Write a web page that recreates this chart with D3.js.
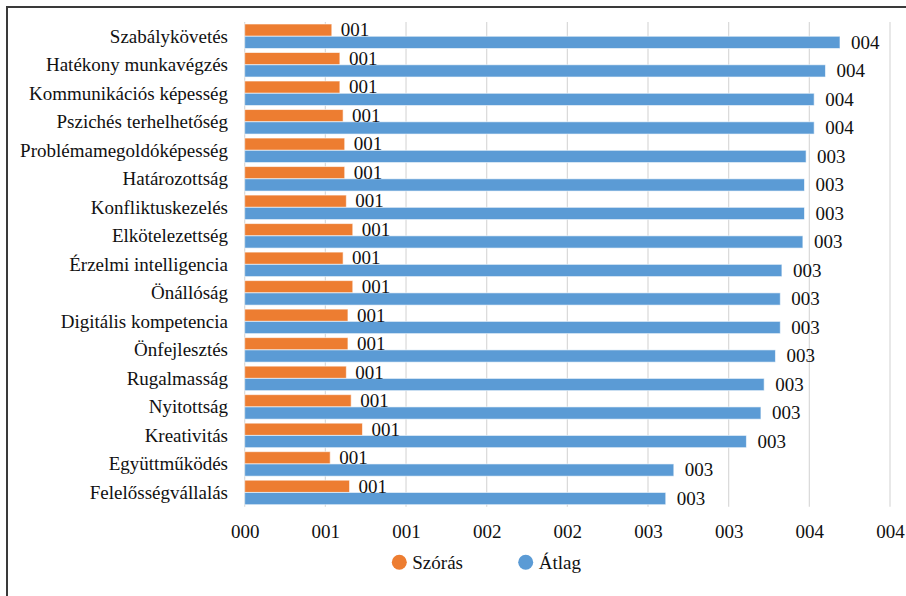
<!DOCTYPE html>
<html>
<head>
<meta charset="utf-8">
<script src="https://cdn.jsdelivr.net/npm/d3@7"></script>
<style>
	body { margin: 0; background: #fff; }
	svg text { font-family: "Liberation Serif", Tinos, "Times New Roman", Times, "DejaVu Serif", serif !important; fill: #111; }
</style>
</head>
<body>
<script>
var categories = ["Szabálykövetés", "Hatékony munkavégzés", "Kommunikációs képesség", "Pszichés terhelhetőség",
	"Problémamegoldóképesség", "Határozottság", "Konfliktuskezelés", "Elkötelezettség", "Érzelmi intelligencia",
	"Önállóság", "Digitális kompetencia", "Önfejlesztés", "Rugalmasság", "Nyitottság", "Kreativitás",
	"Együttműködés", "Felelősségvállalás"];
var szoras = [0.54, 0.59, 0.59, 0.61, 0.62, 0.62, 0.63, 0.67, 0.61, 0.67, 0.64, 0.64, 0.63, 0.66, 0.73, 0.53, 0.65];
var atlag = [3.69, 3.60, 3.53, 3.53, 3.48, 3.47, 3.47, 3.46, 3.33, 3.32, 3.32, 3.29, 3.22, 3.20, 3.11, 2.66, 2.61];
var seriesNames = ["Szórás", "Átlag"];
var xTicks = [0, 0.5, 1, 1.5, 2, 2.5, 3, 3.5, 4];

function draw()
{
	var svgWidth = 906, svgHeight = 596;
	var plot = { left: 244.7, right: 890, top: 22, bottom: 506.7 };
	var colors = { "Szórás": "#ED7D31", "Átlag": "#5B9BD5" };
	var labelGap = { "Szórás": 9, "Átlag": 11 };
	var fontSize = "19px";

	var svg = d3.select("body").append("svg")
				.attr("width", svgWidth)
				.attr("height", svgHeight);

	// outer frame, right and bottom edges fall outside the picture
	svg.append("rect")
		.attr("x", 7).attr("y", 7)
		.attr("width", 940).attr("height", 640)
		.attr("fill", "none")
		.attr("stroke", "#3a3a3a")
		.attr("stroke-width", 2);

	var x = d3.scaleLinear().domain([0, 4]).range([plot.left, plot.right]);
	var y = d3.scaleBand().domain(categories).range([plot.top, plot.bottom])
				.paddingInner(0.14).paddingOuter(0.07);
	var ySub = d3.scaleBand().domain(seriesNames).range([0, y.bandwidth()]);

	var fmt = function(v) { return d3.format("03d")(Math.round(v)); };

	// gridlines
	svg.append("g").selectAll("line")
		.data(xTicks)
		.enter()
	  .append("line")
		.attr("x1", function(d) { return x(d); })
		.attr("x2", function(d) { return x(d); })
		.attr("y1", plot.top)
		.attr("y2", plot.bottom)
		.attr("stroke", "#d9d9d9")
		.attr("stroke-width", 1.2);

	// x-axis labels
	var xAxis = d3.axisBottom(x).tickValues(xTicks).tickFormat(fmt).tickSize(0).tickPadding(0);
	var gx = svg.append("g")
				.attr("transform", "translate(0," + plot.bottom + ")")
				.call(xAxis)
				.attr("font-family", null)
				.attr("font-size", null);
	gx.select(".domain").remove();
	gx.selectAll("text")
		.attr("y", 25)
		.attr("dy", "0.35em")
		.style("font-size", fontSize)
		.attr("fill", "#111");

	// category labels
	var yAxis = d3.axisLeft(y).tickSize(0).tickPadding(0);
	var gy = svg.append("g")
				.attr("transform", "translate(228,0)")
				.call(yAxis)
				.attr("font-family", null)
				.attr("font-size", null);
	gy.select(".domain").remove();
	gy.selectAll("text")
		.attr("dy", "0.33em")
		.style("font-size", fontSize)
		.attr("fill", "#111");

	var rows = categories.map(function(c, i) {
		return [
			{ cat: c, series: "Szórás", value: szoras[i] },
			{ cat: c, series: "Átlag", value: atlag[i] }
		];
	});

	var groups = svg.append("g").selectAll("g")
					.data(rows)
					.enter()
				  .append("g")
					.attr("transform", function(d) { return "translate(0," + y(d[0].cat) + ")"; });

	groups.selectAll("rect")
		.data(function(d) { return d; })
		.enter()
	  .append("rect")
		.attr("x", x(0))
		.attr("y", function(d) { return ySub(d.series); })
		.attr("width", function(d) { return x(d.value) - x(0); })
		.attr("height", ySub.bandwidth())
		.attr("fill", function(d) { return colors[d.series]; })
		.attr("stroke", "#fff")
		.attr("stroke-opacity", 0.6)
		.attr("stroke-width", 1);

	groups.selectAll("text")
		.data(function(d) { return d; })
		.enter()
	  .append("text")
		.attr("x", function(d) { return x(d.value) + labelGap[d.series]; })
		.attr("y", function(d) { return ySub(d.series) + ySub.bandwidth() / 2; })
		.attr("dy", "0.33em")
		.style("font-size", fontSize)
		.text(function(d) { return fmt(d.value); });

	// legend
	var legendX = [399.3, 525.7];
	var legend = svg.append("g").selectAll("g")
					.data(seriesNames)
					.enter()
				  .append("g")
					.attr("transform", function(d, i) { return "translate(" + legendX[i] + ",562.3)"; });
	legend.append("circle")
		.attr("r", 7.5)
		.attr("fill", function(d) { return colors[d]; });
	legend.append("text")
		.attr("x", 13)
		.attr("dy", "0.33em")
		.style("font-size", fontSize)
		.text(function(d) { return d; });
}

draw();
</script>
</body>
</html>
